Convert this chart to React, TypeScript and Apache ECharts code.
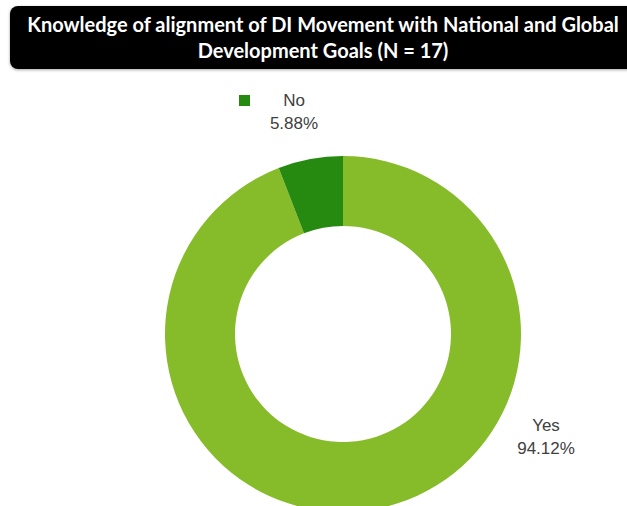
import React, { useEffect, useRef } from "react";
import * as echarts from "echarts";

const categories = ["Yes", "No"];
const values = [16, 1];
const colors = ["#86BC2A", "#268A10"];
const titleLines = [
  "Knowledge of alignment of DI Movement with National and Global",
  "Development Goals (N = 17)",
];

export default function App() {
  const ref = useRef<HTMLDivElement>(null);
  useEffect(() => {
    document.body.style.margin = "0";
    const chart = echarts.init(ref.current!, null, { renderer: "svg" });
    chart.setOption({
      animation: false,
      backgroundColor: "#ffffff",
      legend: {
        data: ["No"],
        left: 239,
        top: 95,
        itemWidth: 11,
        itemHeight: 11,
        icon: "rect",
        formatter: () => "",
        selectedMode: false,
        itemGap: 0,
        padding: 0,
      },
      graphic: [
        {
          type: "rect",
          shape: { x: 10, y: 6, width: 640, height: 63, r: 8 },
          style: { fill: "#000000", shadowBlur: 3, shadowColor: "rgba(0,0,0,0.35)", shadowOffsetY: 1 },
          z: 0,
        },
        {
          type: "text",
          x: 323,
          y: 11,
          style: {
            text: titleLines.join("\n"),
            fill: "#ffffff",
            font: "bold 20px Lato",
            lineHeight: 26,
            textAlign: "center",
            textVerticalAlign: "top",
          },
          z: 1,
        },
      ],
      series: [
        {
          type: "pie",
          center: [343, 334],
          radius: [108, 178],
          startAngle: 90,
          clockwise: true,
          avoidLabelOverlap: false,
          label: {
            show: true,
            formatter: "{b}\n{d}%",
            fontFamily: "Liberation Sans, Arial",
            fontSize: 17,
            lineHeight: 23,
            color: "#404040",
            align: "center",
          },
          labelLine: { show: false },
          labelLayout: (params: any) => {
            if (params.dataIndex === 1) {
              return { x: 294, y: 112, align: "center", verticalAlign: "middle" };
            }
            return { x: 546, y: 437, align: "center", verticalAlign: "middle" };
          },
          itemStyle: { borderWidth: 0 },
          emphasis: { disabled: true },
          data: categories.map((c, i) => ({
            name: c,
            value: values[i],
            itemStyle: { color: colors[i] },
          })),
        },
      ],
    });
    return () => chart.dispose();
  }, []);
  return <div ref={ref} style={{ width: 627, height: 506 }} />;
}
